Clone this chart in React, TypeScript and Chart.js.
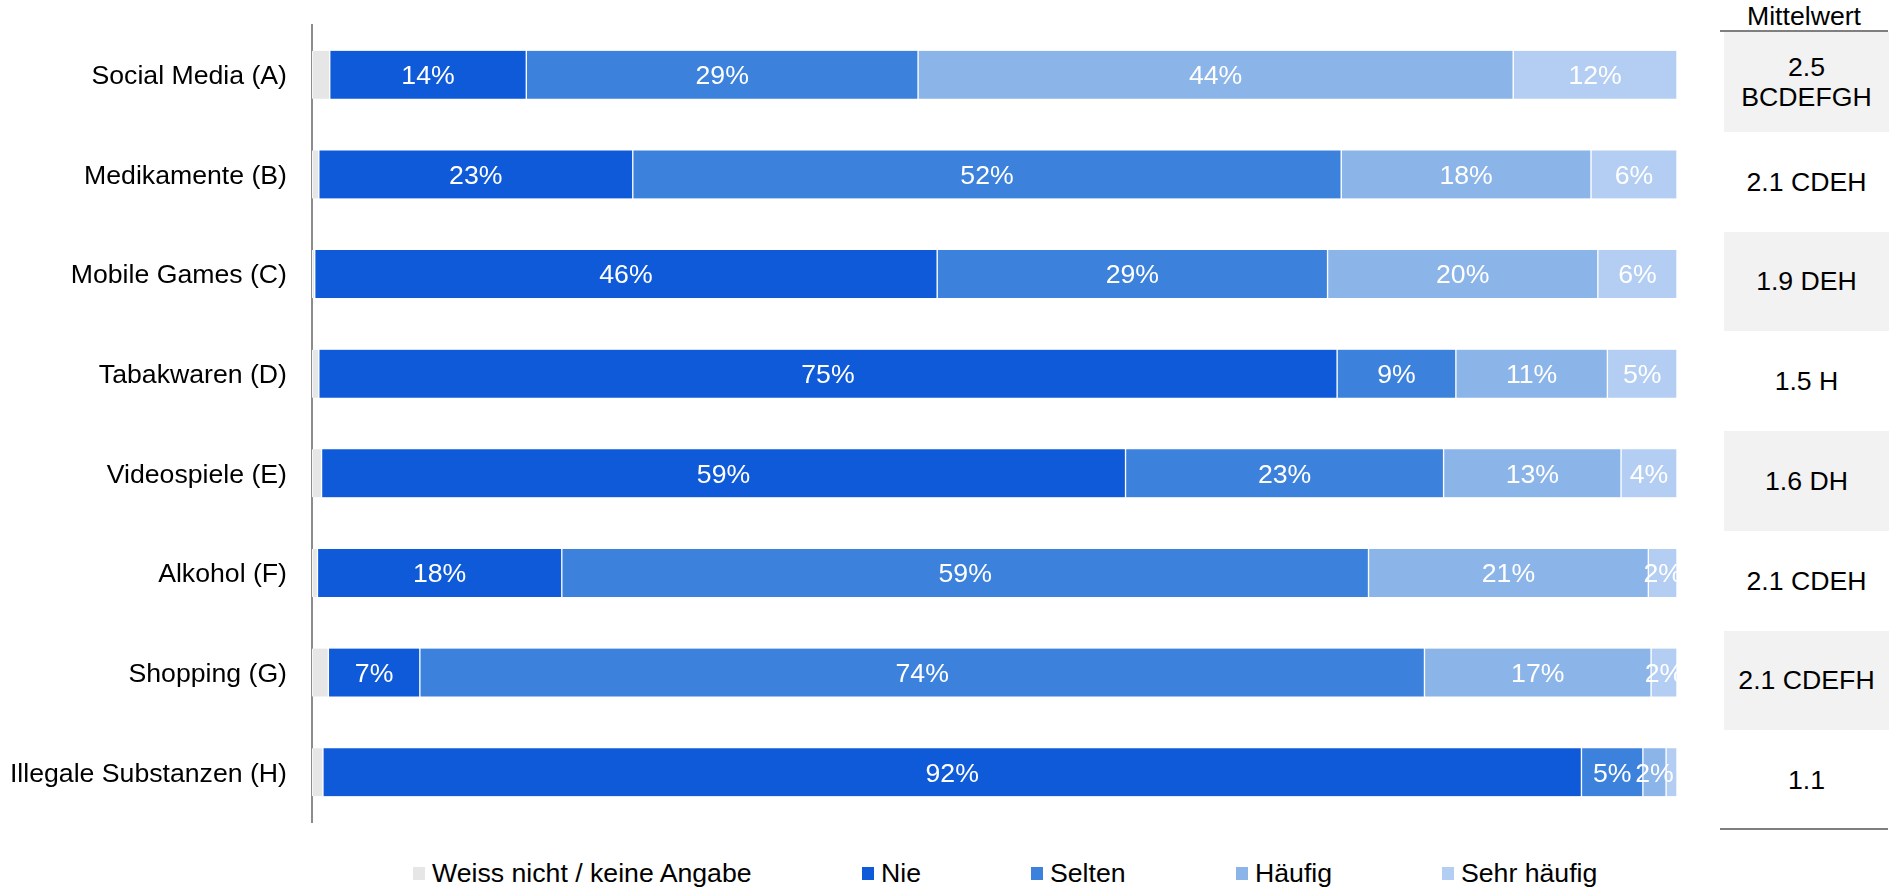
import React, { useEffect, useRef } from "react";
import { Chart, registerables } from "chart.js";

Chart.register(...registerables);

const CATEGORIES = [
  "Social Media (A)",
  "Medikamente (B)",
  "Mobile Games (C)",
  "Tabakwaren (D)",
  "Videospiele (E)",
  "Alkohol (F)",
  "Shopping (G)",
  "Illegale Substanzen (H)",
];

const SERIES_NAMES = ["Weiss nicht / keine Angabe", "Nie", "Selten", "Häufig", "Sehr häufig"];

const WEISS_NICHT = [1.3, 0.5, 0.2, 0.5, 0.7, 0.4, 1.2, 0.8];
const NIE = [14.4, 23.0, 45.6, 74.6, 58.9, 17.9, 6.7, 92.2];
const SELTEN = [28.7, 51.9, 28.6, 8.7, 23.3, 59.1, 73.6, 4.5];
const HAEUFIG = [43.6, 18.3, 19.8, 11.1, 13.0, 20.5, 16.6, 1.7];
const SEHR_HAEUFIG = [12.0, 6.3, 5.8, 5.1, 4.1, 2.1, 1.9, 0.8];

const MEANS = ["2.5 BCDEFGH", "2.1 CDEH", "1.9 DEH", "1.5 H", "1.6 DH", "2.1 CDEH", "2.1 CDEFH", "1.1"];
const MEAN_HEADER = "Mittelwert";

const COLORS = ["#e6e6e6", "#0f5ad8", "#3c82dc", "#8bb4e8", "#b3cef2"];
const FONT = "'Liberation Sans', Arial, sans-serif";
const FS = 26.67;
const LEGEND_LEFT = [413, 862, 1031, 1236, 1442];

const labelPlugin = {
  id: "segmentLabels",
  afterDatasetsDraw(chart: any) {
    const ctx = chart.ctx;
    ctx.save();
    ctx.font = `${FS}px ${FONT}`;
    ctx.fillStyle = "#ffffff";
    ctx.textAlign = "center";
    ctx.textBaseline = "middle";
    chart.data.datasets.forEach((ds: any, di: number) => {
      if (di === 0) return;
      const meta = chart.getDatasetMeta(di);
      meta.data.forEach((el: any, i: number) => {
        const v = Math.round(ds.data[i]);
        if (v < 2) return;
        const cx = (el.x + el.base) / 2;
        ctx.fillText(`${v}%`, cx, el.y + 2);
      });
    });
    ctx.restore();
  },
};

export default function App() {
  const ref = useRef<HTMLCanvasElement | null>(null);

  useEffect(() => {
    document.body.style.margin = "0";
    const values = [WEISS_NICHT, NIE, SELTEN, HAEUFIG, SEHR_HAEUFIG];
    const chart = new Chart(ref.current as HTMLCanvasElement, {
      type: "bar",
      data: {
        labels: CATEGORIES,
        datasets: values.map((d, i) => ({
          label: SERIES_NAMES[i],
          data: d,
          backgroundColor: COLORS[i],
          borderColor: "#ffffff",
          borderWidth: { left: 1, right: 1, top: 0, bottom: 0 },
          borderSkipped: false,
          barThickness: 48,
        })),
      },
      options: {
        indexAxis: "y",
        animation: false,
        responsive: false,
        devicePixelRatio: 1,
        layout: { padding: { left: 0, right: 13, top: 25, bottom: 18 } },
        plugins: { legend: { display: false }, tooltip: { enabled: false } },
        scales: {
          x: { stacked: true, min: 0, max: 100, display: false },
          y: {
            stacked: true,
            grid: { display: false, drawTicks: false },
            border: { display: true, color: "#8c8c8c", width: 2 },
            ticks: { color: "#000000", font: { family: FONT, size: FS }, padding: 25, labelOffset: 2 },
            afterFit(scale: any) {
              scale.width = 312;
              scale.paddingTop = 0;
              scale.paddingBottom = 0;
            },
          },
        },
      },
      plugins: [labelPlugin],
    } as any);
    return () => chart.destroy();
  }, []);

  const rowH = 99.75;
  return (
    <div style={{ position: "relative", width: 1892, height: 893, fontFamily: FONT }}>
      <canvas ref={ref} width={1690} height={840} style={{ position: "absolute", left: 0, top: 0 }} />
      <div
        style={{
          position: "absolute",
          left: 1720,
          top: 1,
          width: 168,
          textAlign: "center",
          fontSize: FS,
          lineHeight: "30px",
          color: "#000",
        }}
      >
        {MEAN_HEADER}
      </div>
      <div style={{ position: "absolute", left: 1720, top: 30, width: 168, height: 2, background: "#7f7f7f" }} />
      {MEANS.map((m, i) => (
        <div
          key={i}
          style={{
            position: "absolute",
            left: 1724,
            top: 32 + i * rowH,
            width: 165,
            height: rowH,
            background: i % 2 === 0 ? "#f2f2f2" : "transparent",
            display: "flex",
            alignItems: "center",
            justifyContent: "center",
            textAlign: "center",
            fontSize: FS,
            lineHeight: "30px",
            color: "#000",
          }}
        >
          {m}
        </div>
      ))}
      <div style={{ position: "absolute", left: 1720, top: 828, width: 168, height: 2, background: "#7f7f7f" }} />
      {SERIES_NAMES.map((n, i) => (
        <div
          key={n}
          style={{
            position: "absolute",
            left: LEGEND_LEFT[i],
            top: 858,
            height: 30,
            display: "flex",
            alignItems: "center",
            whiteSpace: "nowrap",
            fontSize: FS,
            color: "#000",
          }}
        >
          <span style={{ display: "inline-block", width: 12, height: 13, background: COLORS[i], marginRight: 7 }} />
          <span>{n}</span>
        </div>
      ))}
    </div>
  );
}
